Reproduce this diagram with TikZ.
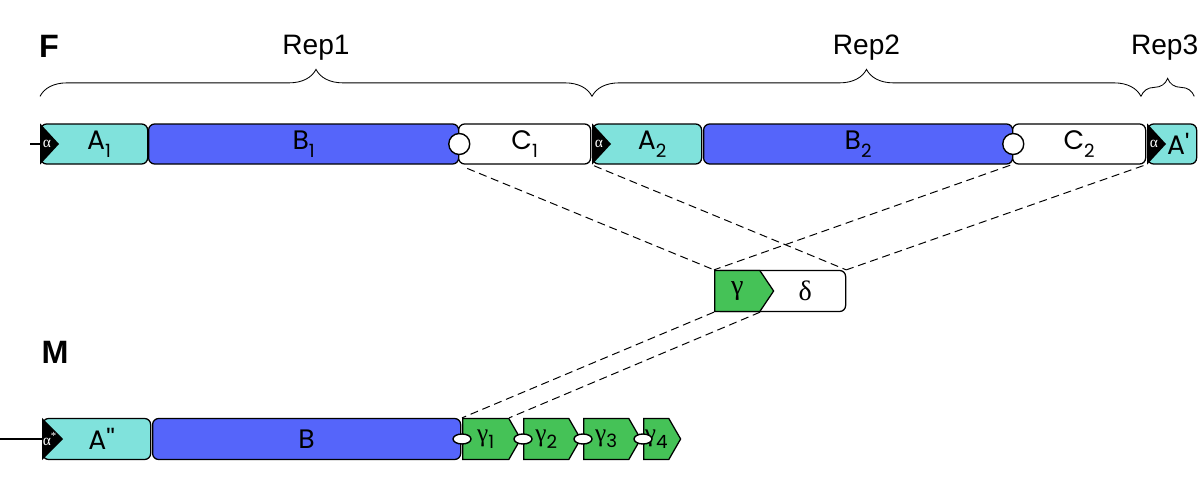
\documentclass[tikz,border=0pt]{standalone}
\usepackage{fontspec}
\setmainfont{Liberation Sans}
\newfontfamily\boxfont{Poppins}
\newfontfamily\greekfont{Liberation Serif}
\usepackage{tikz}
\usetikzlibrary{positioning, calc}
\usetikzlibrary{decorations.pathreplacing}
\usetikzlibrary{shapes.symbols, shapes.geometric}
\definecolor{aqua}{HTML}{80E2DC}
\definecolor{royal}{HTML}{5565FA}
\definecolor{leaf}{HTML}{45C257}
\newdimen\px \px=0.25mm
\newcommand{\lowsub}[1]{\raisebox{-0.55ex}{\boxfont\fontsize{13}{13}\selectfont #1}}

\begin{document}
\begin{tikzpicture}[x=0.25mm, y=-0.25mm,
	                    seg/.style={draw,
	                                line width=0.9pt,
	                                rounded corners=1.5mm,
	                                minimum height=40\px,
	                                inner sep=0pt,
	                                anchor=west,
	                                font=\boxfont\fontsize{19}{19}\selectfont},
	                    aseg/.style={seg, fill=aqua},
	                    bseg/.style={seg, fill=royal},
	                    cseg/.style={seg, fill=white},
	                    gseg/.style={draw,
	                                 line width=0.9pt,
	                                 fill=leaf,
	                                 shape=signal,
	                                 signal to=east,
	                                 signal pointer angle=120,
	                                 minimum height=41\px,
	                                 inner sep=0pt,
	                                 anchor=west,
	                                 font=\greekfont\fontsize{18}{18}\selectfont},
	                    tip/.style={text=white, inner sep=0pt, font=\greekfont\fontsize{11}{11}\selectfont},
	                    joint/.style={circle, draw, fill=white, line width=1pt, minimum size=21\px, inner sep=0pt},
	                    bead/.style={ellipse, draw, fill=white, line width=1pt, minimum width=18\px, minimum height=10\px, inner sep=0pt},
	                    link/.style={draw, dash pattern=on 2mm off 1.2mm, line width=0.7pt},
	                    brc/.style={decoration={brace, amplitude=#1}, decorate, line width=0.6pt},
	                    rep/.style={font=\fontsize{20}{20}\selectfont},
	                    panel/.style={font=\bfseries\fontsize{23}{23}\selectfont}]
	\useasboundingbox (0,0) rectangle (1200,502);

	% F row
	\node [panel] (Flab) at (49,46) {F};
	\coordinate (stubF) at (30,144);
	\node [aseg, minimum width=107\px] (A1) at (40,144) {\hspace{10\px}A\lowsub{1}};
	\node [bseg, minimum width=310\px] (B1) at (148,144) {B\lowsub{1}};
	\node [cseg, minimum width=132\px] (C1) at (458,144) {C\lowsub{1}};
	\node [aseg, minimum width=109\px] (A2) at (592,144) {\hspace{10\px}A\lowsub{2}};
	\node [bseg, minimum width=309\px] (B2) at (703,144) {B\lowsub{2}};
	\node [cseg, minimum width=133\px] (C2) at (1012,144) {C\lowsub{2}};
	\node [aseg, minimum width=49\px] (A3) at (1147,144) {\hspace{12\px}A'};
	\draw [line width=1.5pt] (stubF) -- (A1.west);
	\foreach \a in {A1, A2, A3} {
		\fill (\a.north west) -- (\a.south west) -- ($(\a.west)+(19,0)$) -- cycle;
		\node [tip] at ($(\a.west)+(7,0)$) {α};
	}
	\node [joint] (j1) at (B1.east) {};
	\node [joint] (j2) at (B2.east) {};

	\draw [brc=6.75mm] ($(A1.north west)+(0,-27)$) -- ($(A2.north west)+(0,-27)$) node [rep, midway, yshift=49\px] (Rep1) {Rep1};
	\draw [brc=6.75mm] ($(A2.north west)+(0,-27)$) -- ($(A3.north west)+(-6,-27)$) node [rep, midway, yshift=49\px] (Rep2) {Rep2};
	\draw [brc=4.5mm] ($(A3.north west)+(-6,-27)$) -- ($(A3.north east)+(-3,-27)$) node [rep, midway, xshift=-3\px, yshift=49\px] (Rep3) {Rep3};

	% gamma / delta
	\node [cseg, minimum width=131\px, minimum height=41\px, font=\greekfont\fontsize{20}{20}\selectfont] (del) at (714,291) {\hspace{50\px}δ};
	\node [gseg, minimum width=59\px, signal pointer angle=112, font=\greekfont\fontsize{20}{20}\selectfont] (gam) at (714,291) {γ\hspace{10\px}};

	\draw [link, shorten <=10\px] (C1.south west) -- (gam.north west);
	\draw [link, shorten <=3\px] (C1.south east) -- (del.north east);
	\draw [link, shorten <=2\px] (C2.south west) -- (gam.north west);
	\draw [link, shorten <=3\px] (C2.south east) -- (del.north east);

	% M row
	\node [panel] (Mlab) at (55,352) {M};
	\coordinate (stubM) at (0,439);
	\node [aseg, minimum width=108\px, minimum height=41\px] (A4) at (42,439) {\hspace{10\px}A''};
	\node [bseg, minimum width=308\px, minimum height=41\px] (B3) at (152,439) {B};
	\draw [line width=1.4pt] (stubM) -- (A4.west);
	\fill (A4.north west) -- (A4.south west) -- ($(A4.west)+(21,0)$) -- cycle;
	\node [tip] at ($(A4.west)+(8,0)$) {α\textsuperscript{*}};
	\node [gseg, minimum width=58\px] (g1) at (462,439) {γ\lowsub{1}};
	\node [gseg, minimum width=57\px] (g2) at (523,439) {γ\lowsub{2}};
	\node [gseg, minimum width=57\px] (g3) at (583,439) {γ\lowsub{3}};
	\node [gseg, minimum width=37\px] (g4) at (643,439) {γ\lowsub{4}};
	\foreach \g in {g1, g2, g3, g4}
		\node [bead] at (\g.west) {};

	\draw [link] (gam.south west) -- (g1.north west);
	\draw [link] (gam.south east) -- (g1.north east);
\end{tikzpicture}
\end{document}
